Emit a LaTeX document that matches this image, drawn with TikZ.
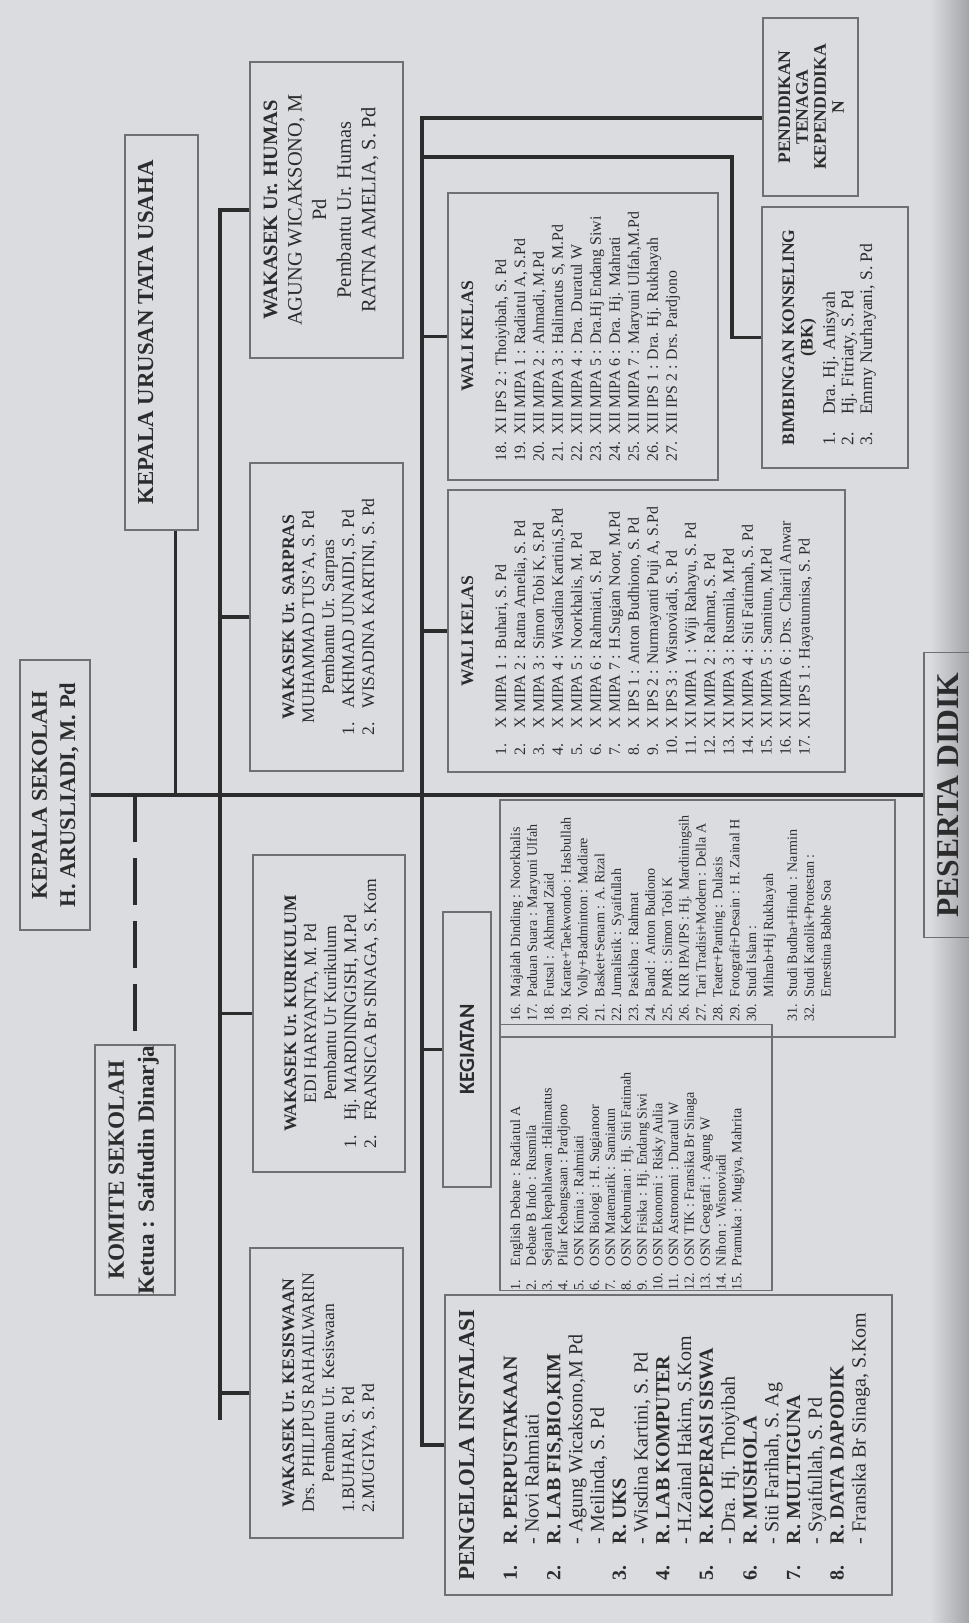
\documentclass[tikz,border=0pt]{standalone}
\usepackage{fontspec}
\setmainfont{Liberation Serif}
\newfontfamily\kegiatanfont{Carlito}
\usepackage{tikz}
\usetikzlibrary{calc}

\newlength{\px}
\setlength{\px}{0.1mm}
\definecolor{paper}{HTML}{DBDCDF}
\definecolor{edge}{HTML}{A4A5A8}
\definecolor{ink}{HTML}{2C2C2C}
\definecolor{frame}{HTML}{707072}
\newcommand{\fs}[2]{\fontsize{#1}{#2}\selectfont}

\begin{document}
\begin{tikzpicture}[x=0.1mm, y=-0.1mm,
  box/.style={draw=frame, line width=0.45pt, rotate=90, inner sep=0pt, text=ink},
  link/.style={draw=ink, line width=1pt},
  dashlink/.style={link, dash pattern=on 4.7mm off 1.6mm}]

\useasboundingbox (0,0) rectangle (969,1623);
\fill[paper] (0,0) rectangle (969,1623);
\shade[left color=paper, right color=edge] (930,0) rectangle (969,1623);

\node[box, minimum width=270\px, text height=27\px, text depth=43\px] (kepala sekolah) at (55,795) {\fs{6.4}{8}\bfseries\begin{tabular}[t]{@{}c@{}}
KEPALA SEKOLAH \\
H. ARUSLIADI, M. Pd
\end{tabular}};

\node[box, minimum width=250\px, text height=29\px, text depth=51\px] (komite sekolah) at (135,1170) {\fs{6.6}{8.5}\bfseries\begin{tabular}[t]{@{}c@{}}
KOMITE SEKOLAH \\
Ketua : Saifudin Dinarja
\end{tabular}};

\node[box, minimum width=395\px, text height=28\px, text depth=45\px] (kepala urusan) at (161.5,332.5) {\fs{6.5}{7}\bfseries KEPALA URUSAN TATA USAHA};

\node[box, minimum width=296\px, text height=27\px, text depth=126\px] (humas) at (326.5,210) {\fs{5.8}{7}\begin{tabular}[t]{@{}c@{}}
\textbf{WAKASEK Ur. HUMAS} \\
AGUNG WICAKSONO, M \\
Pd \\
Pembantu Ur. Humas \\
RATNA AMELIA, S. Pd
\end{tabular}};

\node[box, minimum width=308\px, text height=44\px, text depth=109\px] (sarpras) at (326.5,617) {\fs{5}{5.7}\begin{tabular}[t]{@{}l@{\hspace{4pt}}l@{}}
\multicolumn{2}{@{}c@{}}{\textbf{WAKASEK Ur. SARPRAS}} \\
\multicolumn{2}{@{}c@{}}{MUHAMMAD TUS'A, S. Pd} \\
\multicolumn{2}{@{}c@{}}{Pembantu Ur. Sarpras} \\
1. & AKHMAD JUNAIDI, S. Pd \\
2. & WISADINA KARTINI, S. Pd
\end{tabular}};

\node[box, minimum width=317\px, text height=43\px, text depth=109\px] (kurikulum) at (329,1013.5) {\fs{5}{5.7}\begin{tabular}[t]{@{}l@{\hspace{4pt}}l@{}}
\multicolumn{2}{@{}c@{}}{\textbf{WAKASEK Ur. KURIKULUM}} \\
\multicolumn{2}{@{}c@{}}{EDI HARYANTA, M. Pd} \\
\multicolumn{2}{@{}c@{}}{Pembantu Ur Kurikulum} \\
1. & Hj. MARDININGISH, M.Pd \\
2. & FRANSICA Br SINAGA, S. Kom
\end{tabular}};

\node[box, minimum width=290\px, text height=44\px, text depth=109\px] (kesiswaan) at (326.5,1393) {\fs{5}{5.7}\begin{tabular}[t]{@{}l@{}}
\multicolumn{1}{@{}c@{}}{\textbf{WAKASEK Ur. KESISWAAN}} \\
\multicolumn{1}{@{}c@{}}{Drs. PHILIPUS RAHAILWARIN} \\
\multicolumn{1}{@{}c@{}}{Pembantu Ur. Kesiswaan} \\
1.BUHARI, S. Pd \\
2.MUGIYA, S. Pd
\end{tabular}};

\node[box, minimum width=178\px, text height=27\px, text depth=68\px] (tenaga kependidikan) at (810.5,107) {\fs{5}{5.1}\bfseries\begin{tabular}[t]{@{}c@{}}
PENDIDIKAN \\
TENAGA \\
KEPENDIDIKA \\
N
\end{tabular}};

\node[box, minimum width=261\px, text height=32\px, text depth=114\px] (bimbingan konseling) at (835,337.5) {\fs{5}{5.3}\begin{tabular}[t]{@{}l@{\hspace{5pt}}l@{}}
\multicolumn{2}{@{}c@{}}{\textbf{BIMBINGAN KONSELING}} \\
\multicolumn{2}{@{}c@{}}{\textbf{(BK)}} \\[1pt]
1. & Dra. Hj. Anisyah \\
2. & Hj. Fitriaty, S. Pd \\
3. & Emmy Nurhayani, S. Pd
\end{tabular}};

\node[box, minimum width=287\px, text height=25\px, text depth=245\px] (wali kelas atas) at (583,336.5) {\fs{4.5}{5.4}\begin{tabular}[t]{@{}l@{\hspace{2pt}}l@{}}
\multicolumn{2}{@{}c@{}}{\fs{5}{5.4}\bfseries WALI KELAS} \\[4pt]
18. & XI IPS 2 : Thoiyibah, S. Pd \\
19. & XII MIPA 1 : Radiatul A, S.Pd \\
20. & XII MIPA 2 : Ahmadi, M.Pd \\
21. & XII MIPA 3 : Halimatus S, M.Pd \\
22. & XII MIPA 4 : Dra. Duratul W \\
23. & XII MIPA 5 : Dra.Hj Endang Siwi \\
24. & XII MIPA 6 : Dra. Hj. Mahrati \\
25. & XII MIPA 7 : Maryuni Ulfah,M.Pd \\
26. & XII IPS 1 : Dra. Hj. Rukhayah \\
27. & XII IPS 2 : Drs. Pardjono
\end{tabular}};

\node[box, minimum width=282\px, text height=25\px, text depth=372\px] (wali kelas bawah) at (646.5,631) {\fs{4.5}{5.4}\begin{tabular}[t]{@{}l@{\hspace{2pt}}l@{}}
\multicolumn{2}{@{}c@{}}{\fs{5}{5.4}\bfseries WALI KELAS} \\[4pt]
1. & X MIPA 1 : Buhari, S. Pd \\
2. & X MIPA 2 : Ratna Amelia, S. Pd \\
3. & X MIPA 3 : Simon Tobi K, S.Pd \\
4. & X MIPA 4 : Wisadina Kartini,S.Pd \\
5. & X MIPA 5 : Noorkhalis, M. Pd \\
6. & X MIPA 6 : Rahmiati, S. Pd \\
7. & X MIPA 7 : H.Sugian Noor, M.Pd \\
8. & X IPS 1 : Anton Budhiono, S. Pd \\
9. & X IPS 2 : Nurmayanti Puji A, S.Pd \\
10. & X IPS 3 : Wisnoviadi, S. Pd \\
11. & XI MIPA 1 : Wiji Rahayu, S. Pd \\
12. & XI MIPA 2 : Rahmat, S. Pd \\
13. & XI MIPA 3 : Rusmila, M.Pd \\
14. & XI MIPA 4 : Siti Fatimah, S. Pd \\
15. & XI MIPA 5 : Samitun, M.Pd \\
16. & XI MIPA 6 : Drs. Chairil Anwar \\
17. & XI IPS 1 : Hayatunnisa, S. Pd
\end{tabular}};

\node[box, minimum width=275\px, text height=31\px, text depth=17\px] (kegiatan) at (467,1049.5) {\fs{6.2}{7}\kegiatanfont\bfseries KEGIATAN};

\node[box, minimum width=237\px, text height=20\px, text depth=375\px] (kegiatan kanan) at (697.5,918.5) {\fs{4}{4.8}\begin{tabular}[t]{@{}l@{\hspace{2pt}}l@{}}
16. & Majalah Dinding : Noorkhalis \\
17. & Paduan Suara : Maryuni Ulfah \\
18. & Futsal : Akhmad Zaid \\
19. & Karate+Taekwondo : Hasbullah \\
20. & Volly+Badminton : Madiare \\
21. & Basket+Senam : A. Rizal \\
22. & Jurnalistik : Syaifullah \\
23. & Paskibra : Rahmat \\
24. & Band : Anton Budiono \\
25. & PMR : Simon Tobi K \\
26. & KIR IPA/IPS : Hj. Mardiningsih \\
27. & Tari Tradisi+Modern : Della A \\
28. & Teater+Panting : Dulasis \\
29. & Fotografi+Desain : H. Zainal H \\
30. & Studi Islam : \\
 & Mihrab+Hj Rukhayah \\[2pt]
31. & Studi Budha+Hindu : Narmin \\
32. & Studi Katolik+Protestan : \\
 & Ernestina Babhe Soa
\end{tabular}};

\node[box, minimum width=241\px, text height=20\px, text depth=252\px] (kegiatan kiri) at (636,1157.5) {\fs{4}{4.5}\begin{tabular}[t]{@{}l@{\hspace{2pt}}l@{}}
1. & English Debate : Radiatul A \\
2. & Debate B Indo : Rusmila \\
3. & Sejarah kepahlawan :Halimatus \\
4. & Pilar Kebangsaan : Pardjono \\
5. & OSN Kimia : Rahmiati \\
6. & OSN Biologi : H. Sugianoor \\
7. & OSN Matematik : Samiatun \\
8. & OSN Kebumian : Hj. Siti Fatimah \\
9. & OSN Fisika : Hj. Endang Siwi \\
10. & OSN Ekonomi : Risky Aulia \\
11. & OSN Astronomi : Duratul W \\
12. & OSN TIK : Fransika Br Sinaga \\
13. & OSN Geografi : Agung W \\
14. & Nihon : Wisnoviadi \\
15. & Pramuka : Mugiya, Mahrita
\end{tabular}\hspace*{48\px}};

\node[box, minimum width=300\px, text height=29\px, text depth=418\px] (pengelola instalasi) at (668.5,1445) {\fs{5.7}{6.2}\begin{tabular}[t]{@{}l@{\hspace{6pt}}l@{}}
\multicolumn{2}{@{}l@{}}{\fs{6.5}{6.2}\bfseries PENGELOLA INSTALASI} \\[6pt]
\textbf{1.} & \textbf{R. PERPUSTAKAAN} \\
 & - Novi Rahmiati \\
\textbf{2.} & \textbf{R. LAB FIS,BIO,KIM} \\
 & - Agung Wicaksono,M Pd \\
 & - Meilinda, S. Pd \\
\textbf{3.} & \textbf{R. UKS} \\
 & - Wisdina Kartini, S. Pd \\
\textbf{4.} & \textbf{R. LAB KOMPUTER} \\
 & - H.Zainal Hakim, S.Kom \\
\textbf{5.} & \textbf{R. KOPERASI SISWA} \\
 & - Dra. Hj. Thoiyibah \\
\textbf{6.} & \textbf{R. MUSHOLA} \\
 & - Siti Farihah, S. Ag \\
\textbf{7.} & \textbf{R. MULTIGUNA} \\
 & - Syaifullah, S. Pd \\
\textbf{8.} & \textbf{R. DATA DAPODIK} \\
 & - Fransika Br Sinaga, S.Kom
\end{tabular}};

\node[box, minimum width=285\px, text height=34\px, text depth=32\px] (peserta didik) at (957,795) {\fs{9}{10}\bfseries PESERTA DIDIK};

% garis utama
\draw[link] (kepala sekolah.south) -- (peserta didik.north);
\draw[dashlink] (kepala sekolah.south -| komite sekolah) -- (komite sekolah.east);
\draw[link] ($(kepala urusan.west)+(14,0)$) -- ($(kepala urusan.west |- kepala sekolah.south)+(14,0)$);

% wakasek
\coordinate (wakasek bus) at (220,1420);
\draw[link] (humas.north) -- (humas.north -| wakasek bus) -- (wakasek bus);
\draw[link] (sarpras.north) -- (sarpras.north -| wakasek bus);
\draw[link] (kurikulum.north) -- (kurikulum.north -| wakasek bus);
\draw[link] (kesiswaan.north) -- (kesiswaan.north -| wakasek bus);

% unit bawah
\coordinate (unit bus) at (422,118);
\coordinate (bk bend) at (732,157);
\draw[link] (tenaga kependidikan.north |- unit bus) -- (unit bus) -- (unit bus |- pengelola instalasi.north) -- (pengelola instalasi.north);
\draw[link] (bk bend -| unit bus) -- (bk bend) |- (bimbingan konseling.north);
\draw[link] (wali kelas atas.north -| unit bus) -- (wali kelas atas.north);
\draw[link] (wali kelas bawah.north -| unit bus) -- (wali kelas bawah.north);
\draw[link] (kegiatan.north -| unit bus) -- (kegiatan.north);
\end{tikzpicture}
\end{document}
